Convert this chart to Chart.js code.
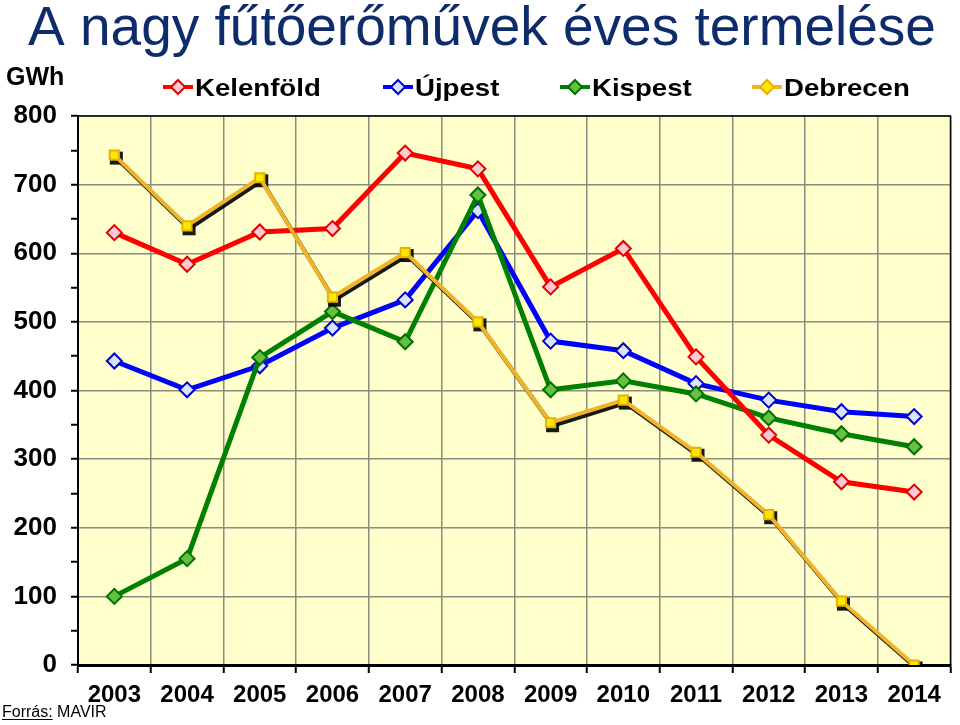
<!DOCTYPE html>
<html>
<head>
<meta charset="utf-8">
<script src="https://cdn.jsdelivr.net/npm/chart.js@4"></script>
<style>
  html, body { margin: 0; padding: 0; background: #fff; }
  #chart { display: block; }
</style>
</head>
<body>
<canvas id="chart" width="960" height="725"></canvas>
<script>
const years = ['2003', '2004', '2005', '2006', '2007', '2008', '2009', '2010', '2011', '2012', '2013', '2014'];
const kelenfold = [630, 584, 631, 636, 746, 723, 551, 607, 449, 335, 267, 252];
const ujpest = [443, 401, 436, 491, 532, 662, 472, 458, 410, 386, 369, 362];
const kispest = [100, 155, 448, 515, 471, 685, 401, 414, 395, 360, 337, 318];
const debrecen = [743, 640, 710, 536, 601, 500, 353, 386, 310, 219, 93, 0];

const font = '"Liberation Sans", Arial, sans-serif';

const legendItems = [
    { text: 'Kelenföld', x: 163, line: '#ff0000', fill: '#ffc8d2', border: '#e00000' },
    { text: 'Újpest', x: 383, line: '#0000ff', fill: '#d8e4ff', border: '#0000cc' },
    { text: 'Kispest', x: 560, line: '#008000', fill: '#66c040', border: '#007000' },
    { text: 'Debrecen', x: 752, line: '#f0b428', fill: '#ffe800', border: '#e8b000' },
];

const decorPlugin = {
    id: 'decor',
    beforeDraw(chart) {
        const ctx = chart.ctx;
        const a = chart.chartArea;
        ctx.save();
        ctx.fillStyle = '#ffffcc';
        ctx.fillRect(a.left, a.top, a.right - a.left, a.bottom - a.top);
        ctx.restore();
    },
    beforeDatasetsDraw(chart) {
        const ctx = chart.ctx;
        const a = chart.chartArea;
        ctx.save();
        ctx.strokeStyle = '#000';
        ctx.lineWidth = 1.5;
        ctx.beginPath();
        ctx.moveTo(a.left, a.top);
        ctx.lineTo(a.right, a.top);
        ctx.lineTo(a.right, a.bottom);
        ctx.stroke();
        ctx.restore();
    },
    beforeDatasetDraw(chart, args) {
        if (chart.data.datasets[args.index].label !== 'Debrecen') return;
        // black drop shadow under the Debrecen line and markers
        const ctx = chart.ctx;
        const a = chart.chartArea;
        const pts = chart.getDatasetMeta(args.index).data;
        const dx = 2, dy = 3;
        ctx.save();
        ctx.beginPath();
        ctx.rect(a.left, a.top, a.right - a.left, a.bottom - a.top - 1);
        ctx.clip();
        ctx.strokeStyle = 'rgba(0,0,0,0.9)';
        ctx.fillStyle = 'rgba(0,0,0,0.9)';
        ctx.lineWidth = 4;
        ctx.lineJoin = 'round';
        ctx.beginPath();
        pts.forEach((p, i) => {
            if (i === 0) ctx.moveTo(p.x + dx, p.y + dy);
            else ctx.lineTo(p.x + dx, p.y + dy);
        });
        ctx.stroke();
        pts.forEach((p) => {
            ctx.fillRect(p.x + dx - 6.5, p.y + dy - 6.5, 13, 13);
        });
        ctx.restore();
    },
    afterDraw(chart) {
        const ctx = chart.ctx;
        ctx.save();
        // title
        ctx.fillStyle = '#0e2c6b';
        ctx.font = '55px ' + font;
        ctx.textBaseline = 'alphabetic';
        ctx.textAlign = 'left';
        ctx.fillText('A nagy fűtőerőművek éves termelése', 28, 45);

        // unit
        ctx.fillStyle = '#000';
        ctx.font = 'bold 25px ' + font;
        ctx.fillText('GWh', 6, 85);

        // legend
        legendItems.forEach((item) => {
            const y = 87;
            ctx.strokeStyle = item.line;
            ctx.lineWidth = 4;
            ctx.beginPath();
            ctx.moveTo(item.x, y);
            ctx.lineTo(item.x + 30, y);
            ctx.stroke();
            const cx = item.x + 15;
            ctx.fillStyle = item.fill;
            ctx.strokeStyle = item.border;
            ctx.lineWidth = 2;
            ctx.beginPath();
            ctx.moveTo(cx, y - 7);
            ctx.lineTo(cx + 7, y);
            ctx.lineTo(cx, y + 7);
            ctx.lineTo(cx - 7, y);
            ctx.closePath();
            ctx.fill();
            ctx.stroke();
            ctx.save();
            ctx.translate(item.x + 32, 96);
            ctx.scale(1.15, 1);
            ctx.fillStyle = '#000';
            ctx.font = 'bold 24px ' + font;
            ctx.fillText(item.text, 0, 0);
            ctx.restore();
        });

        // source
        ctx.fillStyle = '#000';
        ctx.font = '16px ' + font;
        ctx.fillText('Forrás:', 2, 717);
        const w = ctx.measureText('Forrás:').width;
        ctx.fillText(' MAVIR', 2 + w, 717);
        ctx.strokeStyle = '#000';
        ctx.lineWidth = 1;
        ctx.beginPath();
        ctx.moveTo(2, 719.5);
        ctx.lineTo(2 + w, 719.5);
        ctx.stroke();
        ctx.restore();
    },
};

function series(label, data, line, fill, border, style, order) {
    return {
        label: label,
        data: data,
        borderColor: line,
        backgroundColor: fill,
        borderWidth: label === 'Debrecen' ? 4 : 5,
        pointStyle: style,
        pointRadius: style === 'rect' ? 6.5 : 7.5,
        pointBackgroundColor: fill,
        pointBorderColor: border,
        pointBorderWidth: 2,
        tension: 0,
        order: order,
    };
}

const chart = new Chart(document.getElementById('chart'), {
    type: 'line',
    data: {
        labels: years,
        datasets: [
            series('Kelenföld', kelenfold, '#ff0000', '#ffc8d2', '#e00000', 'rectRot', 1),
            series('Újpest', ujpest, '#0000ff', '#d8e4ff', '#0000cc', 'rectRot', 3),
            series('Kispest', kispest, '#008000', '#66c040', '#007000', 'rectRot', 2),
            series('Debrecen', debrecen, '#f0b428', '#ffe800', '#e8b000', 'rect', 0),
        ],
    },
    options: {
        responsive: false,
        animation: false,
        layout: {
            padding: { top: 116, left: 0, right: 3, bottom: 0 },
        },
        plugins: {
            legend: { display: false },
            title: { display: false },
            tooltip: { enabled: false },
        },
        scales: {
            x: {
                offset: true,
                afterFit(scale) { scale.height = 60; },
                grid: {
                    offset: true,
                    color: '#8c8c80',
                    lineWidth: 1.5,
                    tickColor: '#000',
                    tickLength: 8,
                    tickWidth: 2,
                },
                border: { color: '#000', width: 3 },
                ticks: {
                    color: '#000',
                    font: { family: font, size: 24, weight: 'bold' },
                    padding: 8,
                    maxRotation: 0,
                },
            },
            y: {
                min: 0,
                max: 800,
                afterFit(scale) { scale.width = 78; },
                grid: {
                    color: (c) => (c.tick && c.tick.value % 100 === 0 ? '#8c8c80' : 'rgba(0,0,0,0)'),
                    lineWidth: 1.5,
                    tickColor: '#000',
                    tickLength: 7,
                    tickWidth: 2,
                },
                border: { color: '#000', width: 2 },
                ticks: {
                    stepSize: 50,
                    color: '#000',
                    font: { family: font, size: 26, weight: 'bold' },
                    padding: 14,
                    callback: (v) => (v % 100 === 0 ? v : ''),
                },
            },
        },
    },
    plugins: [decorPlugin],
});
</script>
</body>
</html>
